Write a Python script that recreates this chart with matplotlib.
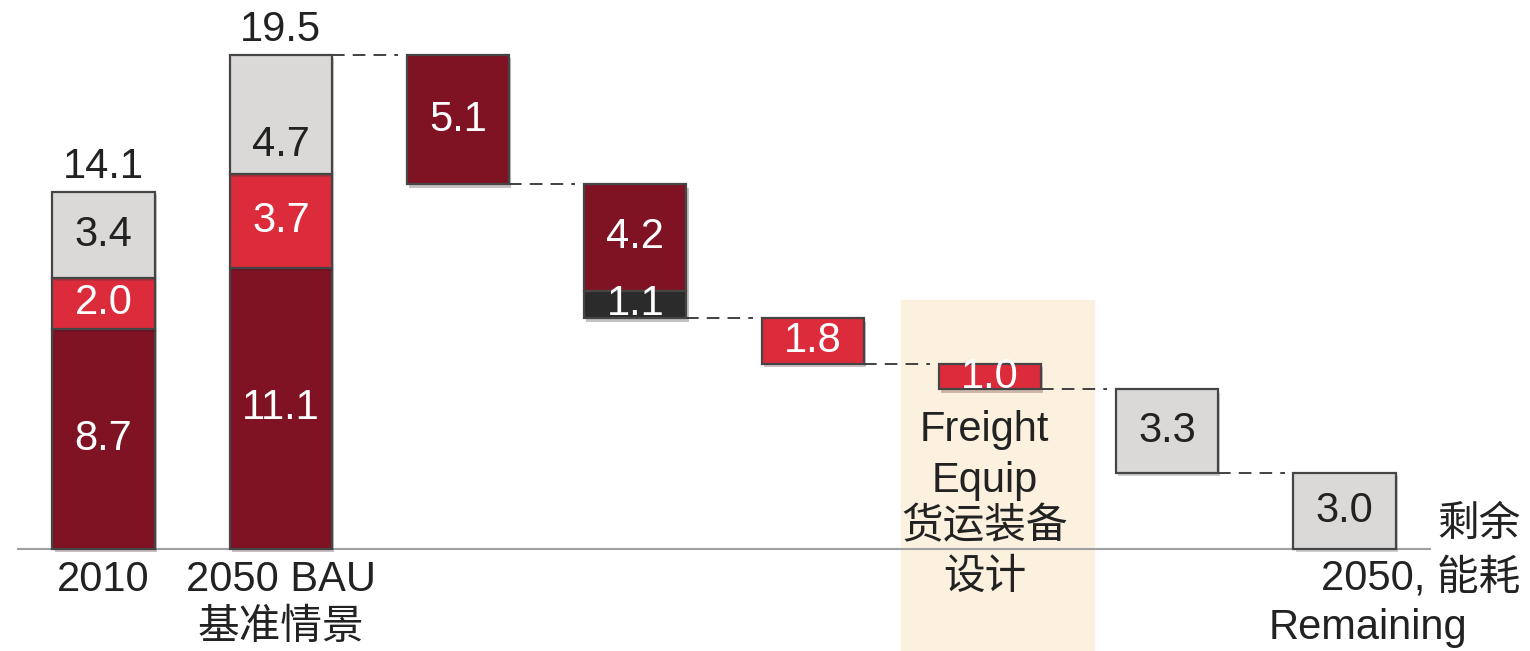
import matplotlib.pyplot as plt
import matplotlib.patheffects as pe

plt.rcParams['font.family'] = ['Liberation Sans', 'Noto Sans CJK SC']

# stacked totals (bottom -> top)
base_labels = ['2010', '2050 BAU']
base_dark = [8.7, 11.1]
base_red = [2.0, 3.7]
base_grey = [3.4, 4.7]

# reduction steps from the 2050 BAU total
step_values = [5.1, 4.2, 1.8, 1.0, 3.3]
step_extra = [0, 1.1, 0, 0, 0]      # dark sub-segment under the 4.2 step
step_colors = ['dark', 'dark', 'red', 'red', 'grey']
remaining = 3.0

colors = {'dark': '#7f1223', 'red': '#dc2b3b', 'grey': '#dad9d7', 'black': '#2b2b2b'}
txt_on = {'dark': 'white', 'red': 'white', 'grey': '#222222', 'black': 'white'}

W = 0.576
FS = 30
DASH = (0, (7, 4.5))
edge = dict(edgecolor='#454545', linewidth=1.6,
            path_effects=[pe.SimplePatchShadow(offset=(1.5, -2.5), alpha=0.25), pe.Normal()])

fig = plt.figure(figsize=(15.3, 6.51), dpi=100)
ax = fig.add_axes([0, 0, 1, 1])
ax.set_xlim(-0.584, 8.046)
ax.set_ylim(-4.03, 21.67)
ax.axis('off')

# highlighted category background
ax.axvspan(4.498, 5.587, ymin=0, ymax=(9.83 + 4.03) / 25.7, color='#fbf1de', zorder=0)

# baseline
ax.plot([-0.482, 7.48], [0, 0], color='#a0a0a0', lw=1.5, zorder=1)

# stacked base bars
for i in range(len(base_labels)):
    bottom = 0
    for val, key in [(base_dark[i], 'dark'), (base_red[i], 'red'), (base_grey[i], 'grey')]:
        ax.bar(i, val, W, bottom=bottom, color=colors[key], zorder=3, **edge)
        # the tall grey cap on the BAU bar has its label sitting low
        ty = bottom + val / 2 - (1.2 if (i == 1 and key == 'grey') else 0)
        ax.text(i, ty, f'{val:.1f}', ha='center', va='center',
                fontsize=FS, color=txt_on[key], zorder=4)
        bottom += val
    ax.text(i, bottom + 0.2, f'{bottom:.1f}', ha='center', va='bottom',
            fontsize=FS, color='#222222', zorder=4)

# waterfall steps
level = base_dark[1] + base_red[1] + base_grey[1]
prev_x = 1
for j, (val, extra, key) in enumerate(zip(step_values, step_extra, step_colors)):
    x = j + 2
    ax.plot([prev_x + W / 2, x - W / 2 - 0.05], [level, level], ls=DASH,
            color='#333333', lw=1.3, zorder=2)
    top = level
    ax.bar(x, val, W, bottom=top - val, color=colors[key], zorder=3, **edge)
    ax.text(x, top - val / 2, f'{val:.1f}', ha='center', va='center',
            fontsize=FS, color=txt_on[key], zorder=4)
    level = top - val
    if extra:
        ax.bar(x, extra, W, bottom=level - extra, color=colors['black'], zorder=3, **edge)
        ax.text(x, level - extra / 2, f'{extra:.1f}', ha='center', va='center',
                fontsize=FS, color=txt_on['black'], zorder=4)
        level -= extra
    prev_x = x

# remaining
x = len(step_values) + 2
ax.plot([prev_x + W / 2, x - W / 2 - 0.05], [level, level], ls=DASH,
        color='#333333', lw=1.3, zorder=2)
ax.bar(x, remaining, W, color=colors['grey'], zorder=3, **edge)
ax.text(x, remaining / 2, f'{remaining:.1f}', ha='center', va='center',
        fontsize=FS, color=txt_on['grey'], zorder=4)

# category labels
lab = dict(ha='center', va='center', fontsize=FS, color='#222222', zorder=5)
ax.text(0, -1.22, '2010', **lab)
ax.text(1, -1.22, '2050 BAU', **lab)
ax.text(1, -3.12, '基准情景', **lab)
ax.text(4.97, 4.70, 'Freight', **lab)
ax.text(4.97, 2.68, 'Equip', **lab)
ax.text(4.97, 0.87, '货运装备', **lab)
ax.text(4.97, -1.14, '设计', **lab)
ax.text(7.99, 0.95, '剩余', **{**lab, 'ha': 'right'})
ax.text(7.99, -1.14, '2050, 能耗', **{**lab, 'ha': 'right'})
ax.text(7.13, -3.12, 'Remaining', **lab)

fig.savefig('out.png', dpi=100)
